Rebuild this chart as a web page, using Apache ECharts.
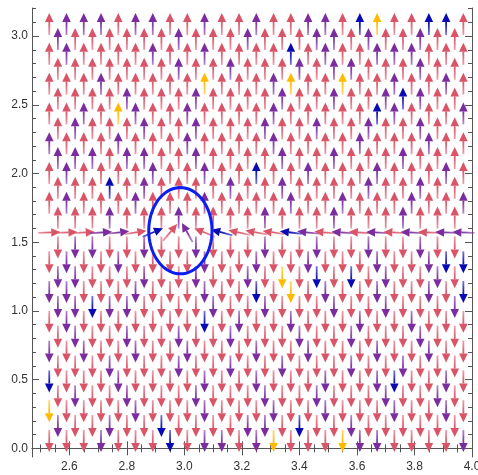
<!DOCTYPE html>
<html>
<head>
<meta charset="utf-8">
<script src="https://cdn.jsdelivr.net/npm/echarts@6/dist/echarts.min.js"></script>
<style>
    html, body { margin: 0; padding: 0; background: #fff; }
    #chart { width: 478px; height: 475px; }
</style>
</head>
<body>
<div id="chart"></div>
<script>
// axis ticks
var xTicks = [2.6, 2.8, 3.0, 3.2, 3.4, 3.6, 3.8, 4.0];
var yTicks = [0.0, 0.5, 1.0, 1.5, 2.0, 2.5, 3.0];

// sampling grid of the vector plot (hexagonal: odd rows shifted by half a cell)
var xStart = 2.53, xStep = 0.06;
var rowCount = 29, yTop = Math.PI;

// arrow colour per grid point, rows from top (y ~ 3.09) to bottom (y ~ 0.05)
// R red, P purple, B blue, O orange
var rowColors = [
    "RPPPRPPRRPRRPRRPPRBORRBBR",
    "PRRRRRRPRRRPRRRPPRPRRPRR",
    "RPRRRRPRRPRRRRBRPRRPPPRRR",
    "RRRRRRRPRRPRRRPRPPRRRPRR",
    "RRRPRRRRRORRRPORRORRPRRPR",
    "RRRRPRRRPRRRRPRRPRRPBPRR",
    "RRPROPRRPRRRRPRRRRRBPRRRP",
    "RPRRRPRRPRRRPRRPRRPRRPRR",
    "PRRRPRRRPRRRRPRRRRPRRRPRR",
    "PPPRPPRRPRRRRPRRPRRRPRRR",
    "RPRRRRPRRPRRBRRPRRRPRRRPR",
    "RRRBRPRRRRPRRPRRRRPRRPRR",
    "RPRRRPRRRPRRRRPRRPRRRPRRP",
    "RRRPRRRPRRRRPRRRPRRRPRRR",
    "RRRPPRBRPRBRRRBPRPRPRPRPP",
    "RPPRRPRRPRRRPRRPRRPRRPRR",
    "RPRRPRRRRPRRPRRPRRRPRRPBB",
    "PPRRRPRRPRRPRORBRBRPRRPR",
    "PPRRRPRRRPRRBRORPRRPRRPRB",
    "PPBPPRRRRPRRPRRRPRRPRRRP",
    "RPRRRRRRRBRPRRPRRRPRRPRRR",
    "RPRRPRRPRRPRRRPRRPRRRPRR",
    "PRPRRPRRPRRRPRRPRRRPRRPRR",
    "RRRPRRRPRRPRRPRRRPRRPRRR",
    "BRRRPRRRRPRRPRRRPRRPBRRPR",
    "RPRRPRRRPRRRPRRPRRRPRRPR",
    "ORRRRPRRRPRRRPRRPRRRPRRPR",
    "PRRPRRBRRRRPPRBRRPRRRRRR",
    "RRRPRRRBRPPRPORRROPPRRRRP"
];
// directions (degrees): up above the middle row, down below it
var upAngle = 90, downAngle = -90;
var middleAngles = [2, 2, 3, 4, 6, 9, 23, 50, 119, 158, 165, 168, 170, 172, 173, 174, 175, 176, 176, 177, 177, 177, 178, 178, 178];

// highlighted region
var ellipse = [2.986, 1.584, 0.110, 0.314];

var palette = { R: '#da5468', P: '#7b2c9f', B: '#0a0ab4', O: '#ffba00' };
var colorKeys = ['R', 'P', 'B', 'O'];

var xMin = 2.47, xMax = 4.0, yMin = -0.0628, yMax = 3.2044;
var frameColor = '#555';

function hexToRgba(hex, a) {
    var n = parseInt(hex.slice(1), 16);
    return 'rgba(' + (n >> 16) + ',' + ((n >> 8) & 255) + ',' + (n & 255) + ',' + a + ')';
}

var arrows = [];
var yStep = yTop / rowCount;
rowColors.forEach(function (row, i) {
    var k = rowCount - 1 - i;
    var y = (k + 0.5) * yStep;
    var shift = (k % 2 === 1) ? xStep / 2 : 0;
    var mid = (k === (rowCount - 1) / 2);
    for (var j = 0; j < row.length; j++) {
        var ang = mid ? middleAngles[j] : (k > (rowCount - 1) / 2 ? upAngle : downAngle);
        arrows.push([xStart + shift + j * xStep, y, ang, colorKeys.indexOf(row[j])]);
    }
});

var xMinor = [], yMinor = [];
for (var v = 2.5; v < 4.001; v += 0.05) {
    if (Math.abs(v * 5 - Math.round(v * 5)) > 1e-6) xMinor.push(+v.toFixed(2));
}
for (var w = 0; w < 3.21; w += 0.1) {
    if (Math.abs(w * 2 - Math.round(w * 2)) > 1e-6) yMinor.push(+w.toFixed(1));
}

function makeAxis(kind, position, ticks, len, withLabels) {
    var ax = {
        type: 'value',
        position: position,
        min: kind === 'x' ? xMin : yMin,
        max: kind === 'x' ? xMax : yMax,
        splitLine: { show: false },
        axisLine: { show: withLabels !== undefined, lineStyle: { color: frameColor, width: 1 } },
        axisTick: { show: true, inside: true, length: len, customValues: ticks, lineStyle: { color: frameColor, width: 1 } },
        axisLabel: { show: false }
    };
    if (withLabels) {
        ax.axisLabel = {
            show: true,
            customValues: ticks,
            margin: 4,
            color: '#333',
            fontSize: 12,
            fontFamily: 'Liberation Sans',
            formatter: function (val) { return val.toFixed(1); }
        };
    }
    return ax;
}

var chart = echarts.init(document.getElementById('chart'));
var option = {
    animation: false,
    grid: { left: 32, right: 6, top: 8, bottom: 18, containLabel: false, outerBoundsMode: 'none' },
    xAxis: [
        makeAxis('x', 'bottom', xTicks, 7, true),
        makeAxis('x', 'bottom', xMinor, 4),
        makeAxis('x', 'top', xTicks, 7, false),
        makeAxis('x', 'top', xMinor, 4)
    ],
    yAxis: [
        makeAxis('y', 'left', yTicks, 7, true),
        makeAxis('y', 'left', yMinor, 4),
        makeAxis('y', 'right', yTicks, 7, false),
        makeAxis('y', 'right', yMinor, 4)
    ],
    series: [
        {
            type: 'custom',
            name: 'field',
            xAxisIndex: 0,
            yAxisIndex: 0,
            data: arrows,
            encode: { x: 0, y: 1 },
            renderItem: function (params, api) {
                var p = api.coord([api.value(0), api.value(1)]);
                var a = api.value(2) * Math.PI / 180;
                var c = palette[colorKeys[api.value(3)]];
                var L = 22, hl = 9, hw = 4.3;
                var dx = Math.cos(a), dy = -Math.sin(a);
                var tail = [p[0] - dx * L / 2, p[1] - dy * L / 2];
                var tip = [p[0] + dx * L / 2, p[1] + dy * L / 2];
                var base = [tip[0] - dx * hl, tip[1] - dy * hl];
                var nx = -dy, ny = dx;
                return {
                    type: 'group',
                    children: [
                        {
                            type: 'line',
                            shape: { x1: tail[0], y1: tail[1], x2: base[0], y2: base[1] },
                            style: {
                                stroke: new echarts.graphic.LinearGradient(tail[0], tail[1], base[0], base[1], [
                                    { offset: 0, color: hexToRgba(c, 0.55) },
                                    { offset: 1, color: c }
                                ], true),
                                lineWidth: 1.8
                            }
                        },
                        {
                            type: 'polygon',
                            shape: { points: [tip, [base[0] + nx * hw, base[1] + ny * hw], [base[0] - nx * hw, base[1] - ny * hw]] },
                            style: { fill: c }
                        }
                    ]
                };
            }
        },
        {
            type: 'custom',
            name: 'region',
            xAxisIndex: 0,
            yAxisIndex: 0,
            data: [ellipse],
            encode: { x: 0, y: 1 },
            renderItem: function (params, api) {
                var cx = api.value(0), cy = api.value(1), rx = api.value(2), ry = api.value(3);
                var pts = [];
                for (var t = 0; t <= 72; t++) {
                    var th = t / 72 * Math.PI * 2;
                    pts.push(api.coord([cx + rx * Math.cos(th), cy + ry * Math.sin(th)]));
                }
                return {
                    type: 'polyline',
                    shape: { points: pts },
                    style: { stroke: '#0a1ef0', lineWidth: 3, fill: null }
                };
            }
        }
    ]
};
chart.setOption(option);
</script>
</body>
</html>
